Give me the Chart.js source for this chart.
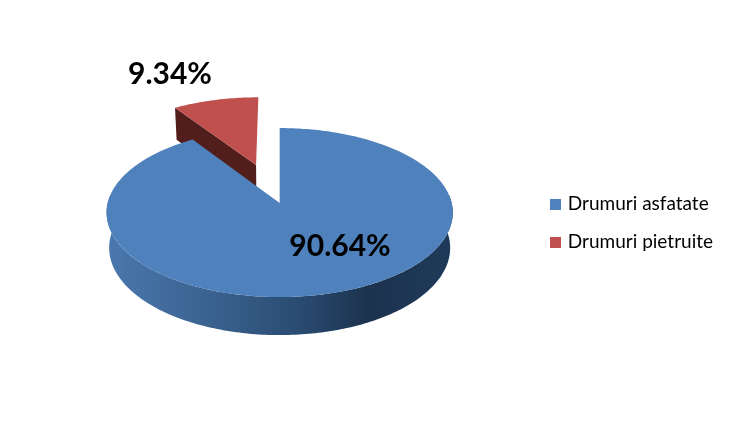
<!DOCTYPE html>
<html>
<head>
<meta charset="utf-8">
<style>
    html, body { margin: 0; padding: 0; background: #fff; }
    canvas { display: block; }
</style>
<script src="https://cdn.jsdelivr.net/npm/chart.js@4"></script>
</head>
<body>
<canvas id="roadsChart" width="734" height="440"></canvas>
<script>
const categories = ['Drumuri asfatate', 'Drumuri pietruite'];
const shares = [90.64, 9.34];
const sliceColors = ['#4f81bd', '#c0504d'];

// 3D look: tilt and perspective of the pie
const tilt = 0.485;
const perspective = 0.113;
const depth = 35;
const lift = -20;
const step = Math.PI / 180;

// maps a point of the flat pie to the screen, z = 0 top face, z = 1 bottom face
function project(arc, dx, dy, z) {
    const w = 1 / (1 - perspective * dy / arc.outerRadius);
    const shrink = 1 - 0.015 * z;
    return {
        x: arc.x + dx * w * shrink,
        y: arc.y + lift + dy * tilt * w * shrink + z * depth * w
    };
}

function rimPoint(arc, explode, angle, z) {
    const mid = (arc.startAngle + arc.endAngle) / 2;
    return project(arc,
        Math.cos(mid) * explode + Math.cos(angle) * arc.outerRadius,
        Math.sin(mid) * explode + Math.sin(angle) * arc.outerRadius,
        z);
}

function apexPoint(arc, explode, z) {
    const mid = (arc.startAngle + arc.endAngle) / 2;
    return project(arc, Math.cos(mid) * explode, Math.sin(mid) * explode, z);
}

function fillPoints(ctx, points, fill) {
    ctx.beginPath();
    points.forEach((p, i) => i ? ctx.lineTo(p.x, p.y) : ctx.moveTo(p.x, p.y));
    ctx.closePath();
    ctx.fillStyle = fill;
    ctx.fill();
}

function drawSlice(ctx, arc, explode, color) {
    const rim = [];
    for (let a = arc.startAngle; a < arc.endAngle; a += step) {
        rim.push(rimPoint(arc, explode, a, 0));
    }
    rim.push(rimPoint(arc, explode, arc.endAngle, 0));

    if (explode > 0) {
        // cut face of the pulled out slice
        fillPoints(ctx, [
            rimPoint(arc, explode, arc.startAngle, 0),
            apexPoint(arc, explode, 0),
            apexPoint(arc, explode, 1),
            rimPoint(arc, explode, arc.startAngle, 1)
        ], '#521e1c');
    } else {
        // front wall
        const top = [];
        const bottom = [];
        for (let a = -0.1; a < Math.PI + 0.1; a += step) {
            top.push(rimPoint(arc, 0, a, 0));
            bottom.unshift(rimPoint(arc, 0, a, 1));
        }
        const wall = ctx.createLinearGradient(107, 0, 453, 0);
        wall.addColorStop(0, '#4a78ae');
        wall.addColorStop(0.3, '#3a628f');
        wall.addColorStop(0.55, '#2a4c72');
        wall.addColorStop(0.75, '#1c334f');
        wall.addColorStop(1, '#1f3a5a');
        fillPoints(ctx, top.concat(bottom), wall);
    }

    fillPoints(ctx, [apexPoint(arc, explode, 0)].concat(rim), color);
}

// legend squares, wider than the legend box so the text sits closer to them
function swatch(color) {
    const c = document.createElement('canvas');
    c.width = 11;
    c.height = 11;
    const g = c.getContext('2d');
    g.fillStyle = color;
    g.fillRect(0, 0, 11, 11);
    return c;
}

const pie3d = {
    id: 'pie3d',
    beforeDatasetsDraw(chart) {
        const ctx = chart.ctx;
        const arcs = chart.getDatasetMeta(0).data;

        // the pulled out slice sits behind the big one
        [1, 0].forEach((i) => {
            drawSlice(ctx, arcs[i], arcs[i].options.offset, sliceColors[i]);
        });

        ctx.save();
        ctx.fillStyle = '#000';
        ctx.font = 'bold 30px Lato';
        ctx.textAlign = 'center';
        ctx.textBaseline = 'middle';
        ctx.fillText(shares[0].toFixed(2) + '%', 340, 246);
        ctx.fillText(shares[1].toFixed(2) + '%', 170, 74);
        ctx.restore();
        return false;
    }
};

new Chart(document.getElementById('roadsChart'), {
    type: 'pie',
    data: {
        labels: categories,
        datasets: [{
            data: shares,
            backgroundColor: sliceColors,
            borderWidth: 0,
            offset: [0, 86]
        }]
    },
    plugins: [pie3d],
    options: {
        responsive: false,
        animation: false,
        events: [],
        radius: 172,
        layout: {
            padding: { top: 6, left: 25, right: 11 }
        },
        plugins: {
            tooltip: { enabled: false },
            legend: {
                position: 'right',
                labels: {
                    usePointStyle: true,
                    boxWidth: 5,
                    boxHeight: 11,
                    padding: 19,
                    color: '#000',
                    font: { family: 'Lato', size: 19 },
                    generateLabels: (chart) => Chart.overrides.pie.plugins.legend.labels.generateLabels(chart)
                        .map((item, i) => ({ ...item, pointStyle: swatch(sliceColors[i]) }))
                }
            }
        }
    }
});
</script>
</body>
</html>
